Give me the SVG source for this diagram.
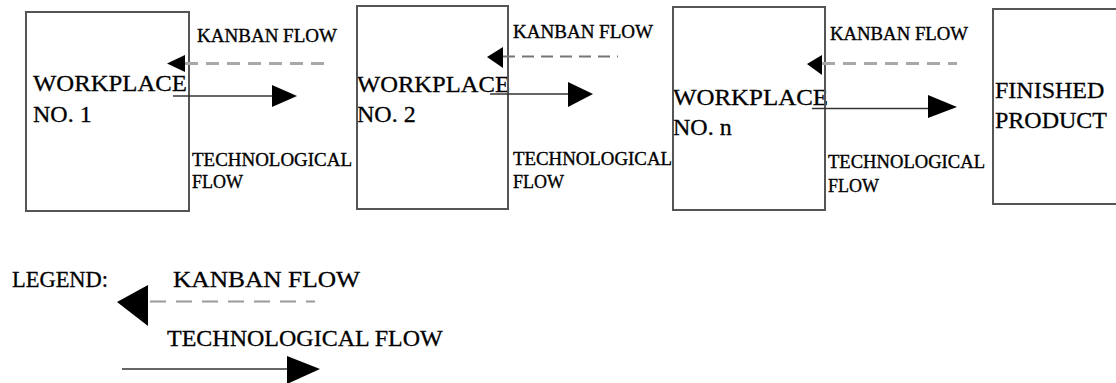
<svg xmlns="http://www.w3.org/2000/svg" width="1116" height="383" viewBox="0 0 1116 383">
<style>
.box{fill:none;stroke:#555;stroke-width:2}
text{font-family:"Liberation Serif","Times New Roman",serif}
.big{font-size:24px;fill:#000;stroke:#000;stroke-width:0.3}
.small{font-size:19px;fill:#000;stroke:#000;stroke-width:0.35}
.tech{stroke:#333;stroke-width:1.6;fill:none}
.head{fill:#000}
.kanL{stroke:#a8a8a8;stroke-width:3;stroke-dasharray:13 8;fill:none}
.kanD{stroke:#777;stroke-width:2;stroke-dasharray:12 7;fill:none}
.kanG{stroke:#999;stroke-width:2.2;stroke-dasharray:16 10;fill:none}
</style>
<rect width="1116" height="383" fill="#fff"/>
<g id="node-workplace-1">
<text class="big" x="33" y="91" textLength="154" lengthAdjust="spacingAndGlyphs">WORKPLACE</text>
<text class="big" x="33" y="122">NO. 1</text>
<rect class="box" x="26" y="12" width="163" height="199"/>
</g>
<g id="node-workplace-2">
<text class="big" x="357" y="92" textLength="153" lengthAdjust="spacingAndGlyphs">WORKPLACE</text>
<text class="big" x="357" y="122">NO. 2</text>
<rect class="box" x="357" y="6" width="151" height="203"/>
</g>
<g id="node-workplace-n">
<text class="big" x="673" y="105" textLength="155" lengthAdjust="spacingAndGlyphs">WORKPLACE</text>
<text class="big" x="673" y="135">NO. n</text>
<rect class="box" x="673" y="7" width="152" height="203"/>
</g>
<g id="node-finished-product">
<text class="big" x="995" y="98">FINISHED</text>
<text class="big" x="995" y="128">PRODUCT</text>
<rect class="box" x="993" y="9" width="140" height="195"/>
</g>
<g id="connectors">
<path class="kanL" d="M185 63.5H325"/>
<polygon class="head" points="167,63.5 185,55 185,72"/>
<path class="tech" d="M173 96H275"/>
<polygon class="head" points="297,96 272,85 272,107"/>
<text class="small" x="197" y="42" textLength="140" lengthAdjust="spacingAndGlyphs">KANBAN FLOW</text>
<text class="small" x="192" y="166" textLength="160" lengthAdjust="spacingAndGlyphs">TECHNOLOGICAL</text>
<text class="small" x="192" y="188" textLength="51" lengthAdjust="spacingAndGlyphs">FLOW</text>

<path class="kanD" d="M503 56.5H618"/>
<polygon class="head" points="487,57 503,47 503,68"/>
<path class="tech" d="M490 94H570"/>
<polygon class="head" points="593,94 568,82 568,107"/>
<text class="small" x="513" y="38" textLength="140" lengthAdjust="spacingAndGlyphs">KANBAN FLOW</text>
<text class="small" x="513" y="165" textLength="159" lengthAdjust="spacingAndGlyphs">TECHNOLOGICAL</text>
<text class="small" x="513" y="188" textLength="51" lengthAdjust="spacingAndGlyphs">FLOW</text>

<path class="kanL" d="M822 63.5H957"/>
<polygon class="head" points="807,64 822,55 822,75"/>
<path class="tech" d="M812 108.5H930"/>
<polygon class="head" points="957,107 928,95 928,118"/>
<text class="small" x="830" y="40" textLength="138" lengthAdjust="spacingAndGlyphs">KANBAN FLOW</text>
<text class="small" x="828" y="168" textLength="157" lengthAdjust="spacingAndGlyphs">TECHNOLOGICAL</text>
<text class="small" x="828" y="192" textLength="51" lengthAdjust="spacingAndGlyphs">FLOW</text>
</g>
<g id="legend">
<text class="big" x="12" y="287" font-size="22" textLength="96" lengthAdjust="spacingAndGlyphs">LEGEND:</text>
<text class="big" x="173" y="287" textLength="187" lengthAdjust="spacingAndGlyphs">KANBAN FLOW</text>
<path class="kanG" d="M150 301.5H315"/>
<polygon class="head" points="117,302 148,285 148,326"/>
<text class="big" x="167" y="346">TECHNOLOGICAL FLOW</text>
<path class="tech" d="M122 369H290"/>
<polygon class="head" points="320,369 287,356 287,384"/>
</g>
</svg>
